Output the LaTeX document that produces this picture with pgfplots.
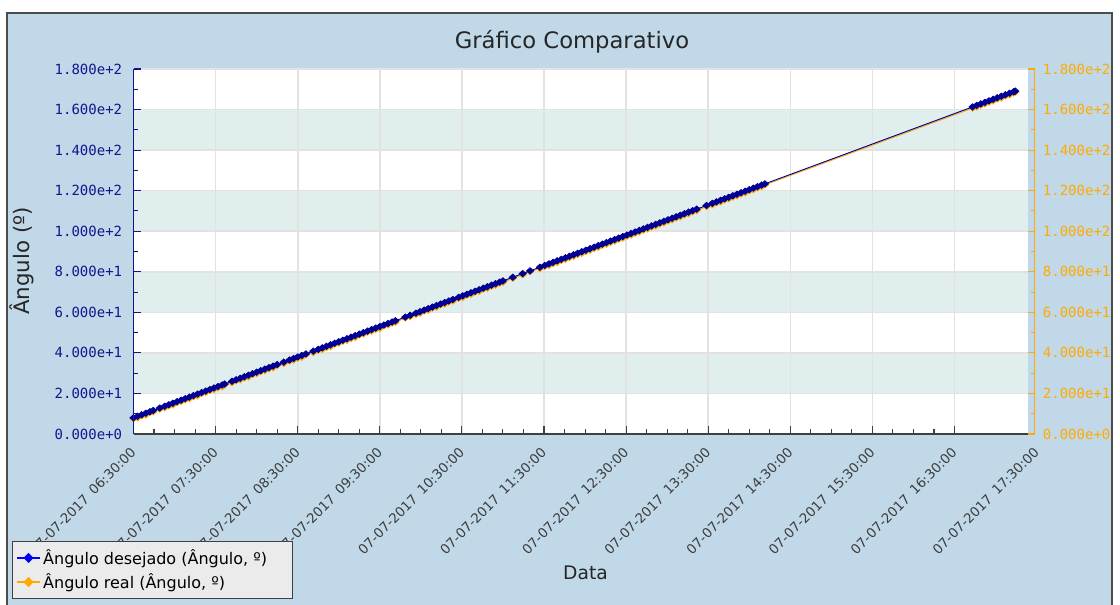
\documentclass[border=0pt]{standalone}
\usepackage{pgfplots}
\pgfplotsset{compat=1.18}
\usepackage{pgfplotstable}
\usepackage{fontspec}
\setmainfont{DejaVu Sans}
\newfontfamily\monofont{DejaVu Sans Mono}

\definecolor{panel}{RGB}{193,216,232}
\definecolor{band}{RGB}{224,238,238}
\definecolor{gridc}{RGB}{226,226,226}
\definecolor{navy}{RGB}{20,20,140}
\definecolor{serblue}{RGB}{0,0,150}
\definecolor{orng}{RGB}{255,170,0}
\definecolor{lblgray}{RGB}{60,60,60}
\definecolor{legfill}{RGB}{235,235,235}

\newcommand\dt[1]{07-07-2017\hspace{0.45em}#1}

% t (hours), desejado, real
\pgfplotstableread{
t d r
6.50 8.00 7.50
6.55 8.75 7.95
6.60 9.50 8.90
6.65 10.25 9.35
6.70 11.00 10.60
6.74 11.60 10.90
6.82 12.80 12.30
6.88 13.70 12.90
6.93 14.45 13.85
6.98 15.20 14.30
7.03 15.95 15.55
7.08 16.70 16.00
7.13 17.45 16.95
7.18 18.20 17.40
7.23 18.95 18.35
7.28 19.70 18.80
7.33 20.45 20.05
7.38 21.20 20.50
7.43 21.95 21.45
7.48 22.70 21.90
7.53 23.45 22.85
7.58 24.20 23.30
7.61 24.65 24.25
7.70 26.00 25.30
7.75 26.75 26.25
7.80 27.50 26.70
7.85 28.25 27.65
7.90 29.00 28.10
7.95 29.75 29.35
8.00 30.50 29.80
8.05 31.25 30.75
8.10 32.00 31.20
8.15 32.75 32.15
8.20 33.50 32.60
8.25 34.25 33.85
8.33 35.45 34.75
8.40 36.50 36.00
8.45 37.25 36.45
8.50 38.00 37.40
8.55 38.75 37.85
8.60 39.50 39.10
8.69 40.85 40.15
8.75 41.75 41.25
8.80 42.50 41.70
8.85 43.25 42.65
8.90 44.00 43.10
8.95 44.75 44.35
9.00 45.50 44.80
9.05 46.25 45.75
9.10 47.00 46.20
9.15 47.75 47.15
9.20 48.50 47.60
9.25 49.25 48.85
9.30 50.00 49.30
9.35 50.75 50.25
9.40 51.50 50.70
9.45 52.25 51.65
9.50 53.00 52.10
9.55 53.75 53.35
9.60 54.50 53.80
9.65 55.25 54.75
9.69 55.85 55.05
9.81 57.65 57.25
9.87 58.55 57.85
9.94 59.60 59.00
9.99 60.35 59.55
10.04 61.10 60.70
10.09 61.85 61.05
10.14 62.60 62.10
10.19 63.35 62.55
10.24 64.10 63.70
10.29 64.85 64.05
10.34 65.60 65.10
10.39 66.35 65.55
10.46 67.40 66.90
10.51 68.15 67.35
10.56 68.90 68.50
10.61 69.65 68.85
10.66 70.40 69.90
10.71 71.15 70.35
10.76 71.90 71.50
10.81 72.65 71.85
10.86 73.40 72.90
10.91 74.15 73.35
10.96 74.90 74.50
11.00 75.50 74.80
11.12 77.30 76.80
11.24 79.10 78.50
11.33 80.45 80.05
11.45 82.25 81.55
11.51 83.15 82.65
11.56 83.90 83.10
11.61 84.65 84.05
11.66 85.40 84.60
11.71 86.15 85.55
11.76 86.90 86.10
11.81 87.65 87.05
11.86 88.40 87.60
11.91 89.15 88.55
11.96 89.90 89.10
12.01 90.65 90.05
12.06 91.40 90.60
12.11 92.15 91.55
12.16 92.90 92.10
12.21 93.65 93.05
12.26 94.40 93.60
12.31 95.15 94.55
12.36 95.90 95.10
12.41 96.65 96.05
12.46 97.40 96.60
12.51 98.15 97.55
12.56 98.90 98.10
12.61 99.65 99.05
12.66 100.40 99.60
12.71 101.15 100.55
12.76 101.90 101.10
12.81 102.65 102.05
12.86 103.40 102.60
12.91 104.15 103.55
12.96 104.90 104.10
13.01 105.65 105.05
13.06 106.40 105.60
13.11 107.15 106.55
13.16 107.90 107.10
13.21 108.65 108.05
13.26 109.40 108.60
13.31 110.15 109.55
13.36 110.90 110.10
13.48 112.70 112.20
13.55 113.75 113.05
13.60 114.50 114.00
13.65 115.25 114.45
13.70 116.00 115.40
13.75 116.75 115.95
13.80 117.50 116.90
13.85 118.25 117.45
13.90 119.00 118.40
13.95 119.75 118.95
14.00 120.50 119.90
14.05 121.25 120.45
14.10 122.00 121.40
14.15 122.75 121.95
14.19 123.35 122.85
16.72 161.30 160.70
16.77 162.05 161.25
16.82 162.80 162.20
16.87 163.55 162.75
16.92 164.30 163.70
16.97 165.05 164.25
17.02 165.80 165.20
17.07 166.55 165.75
17.12 167.30 166.70
17.17 168.05 167.25
17.22 168.80 168.20
17.24 169.10 168.60
}\angdata

\tikzset{xtl/.style={rotate=45, anchor=east, inner sep=0pt,
  font=\fontsize{10}{12}\selectfont, text=lblgray}}
\pgfplotsset{gl/.style={forget plot, draw=gridc, line width=1.2pt}}

\begin{document}
\begin{tikzpicture}
\fill[white] (0pt,0pt) rectangle (840pt,453pt);
\filldraw[fill=panel, draw=black!70, line width=1.2pt] (5.25pt,443.25pt) rectangle (834pt,-3.75pt);

\node[font=\fontsize{17}{20}\selectfont, text=black!85] at (429pt,421.5pt) {Gráfico Comparativo};
\node[font=\fontsize{14}{17}\selectfont, text=black!85] at (439.125pt,23.25pt) {Data};
\node[font=\fontsize{16}{19}\selectfont, text=black!85, rotate=90] at (16.5pt,257.25pt) {Ângulo (º)};

\begin{axis}[
  at={(100.125pt,127.5pt)}, anchor=south west,
  scale only axis, width=670.875pt, height=273.75pt,
  axis on top, clip mode=individual,
  axis background/.style={fill=white},
  xmin=6.5, xmax=17.395, ymin=0, ymax=180,
  axis x line*=bottom, axis y line*=left,
  x axis line style={draw=black!75, line width=1.1pt, -},
  y axis line style={draw=navy, line width=1.1pt, -},
  tick align=inside,
  major tick length=6pt, minor tick length=3.75pt,
  xtick={6.5,7.5,8.5,9.5,10.5,11.5,12.5,13.5,14.5,15.5,16.5},
  minor x tick num=3,
  xticklabels={\dt{06:30:00},\dt{07:30:00},\dt{08:30:00},\dt{09:30:00},\dt{10:30:00},\dt{11:30:00},\dt{12:30:00},\dt{13:30:00},\dt{14:30:00},\dt{15:30:00},\dt{16:30:00}},
  ytick={0,20,40,60,80,100,120,140,160,180}, minor y tick num=1,
  yticklabels={0.000e+0,2.000e+1,4.000e+1,6.000e+1,8.000e+1,1.000e+2,1.200e+2,1.400e+2,1.600e+2,1.800e+2},
  xtick style={draw=black!75, line width=0.8pt},
  ytick style={draw=navy, line width=0.8pt},
  xticklabel style={xtl}, xticklabel shift=12pt,
  yticklabel style={font=\monofont\fontsize{10.5}{12}\selectfont, text=navy, xshift=-5pt},
  legend style={at={(-0.1358,-0.293)}, anchor=north west, fill=legfill, draw=black!75,
    line width=0.8pt, font=\fontsize{12}{14}\selectfont, inner xsep=3pt, inner ysep=4pt, row sep=1.5pt},
  legend cell align=left,
]
% horizontal bands
\addplot[forget plot, fill=band, draw=none] coordinates {(6.5,20) (17.395,20) (17.395,40) (6.5,40)} -- cycle;
\addplot[forget plot, fill=band, draw=none] coordinates {(6.5,60) (17.395,60) (17.395,80) (6.5,80)} -- cycle;
\addplot[forget plot, fill=band, draw=none] coordinates {(6.5,100) (17.395,100) (17.395,120) (6.5,120)} -- cycle;
\addplot[forget plot, fill=band, draw=none] coordinates {(6.5,140) (17.395,140) (17.395,160) (6.5,160)} -- cycle;
% grid lines
\addplot[gl] coordinates {(7.5,0) (7.5,180)};
\addplot[gl] coordinates {(8.5,0) (8.5,180)};
\addplot[gl] coordinates {(9.5,0) (9.5,180)};
\addplot[gl] coordinates {(10.5,0) (10.5,180)};
\addplot[gl] coordinates {(11.5,0) (11.5,180)};
\addplot[gl] coordinates {(12.5,0) (12.5,180)};
\addplot[gl] coordinates {(13.5,0) (13.5,180)};
\addplot[gl] coordinates {(14.5,0) (14.5,180)};
\addplot[gl] coordinates {(15.5,0) (15.5,180)};
\addplot[gl] coordinates {(16.5,0) (16.5,180)};
\addplot[gl] coordinates {(6.5,20) (17.395,20)};
\addplot[gl] coordinates {(6.5,40) (17.395,40)};
\addplot[gl] coordinates {(6.5,60) (17.395,60)};
\addplot[gl] coordinates {(6.5,80) (17.395,80)};
\addplot[gl] coordinates {(6.5,100) (17.395,100)};
\addplot[gl] coordinates {(6.5,120) (17.395,120)};
\addplot[gl] coordinates {(6.5,140) (17.395,140)};
\addplot[gl] coordinates {(6.5,160) (17.395,160)};
\addplot[gl] coordinates {(6.5,180) (17.395,180)};

\addplot[forget plot, color=orng, line width=0.7pt, mark=diamond*, mark size=2.3pt, mark options={xscale=1.5}] table[x=t,y=r]{\angdata};
\addplot[forget plot, color=serblue, line width=0.7pt, mark=diamond*, mark size=2.3pt, mark options={xscale=1.5}] table[x=t,y=d]{\angdata};

\addlegendimage{color=blue, line width=0.9pt, mark=diamond*, mark size=3.2pt, mark options={xscale=1.3}}
\addlegendentry{Ângulo desejado (Ângulo, º)\hspace*{14pt}}
\addlegendimage{color=orng, line width=0.9pt, mark=diamond*, mark size=3.2pt, mark options={xscale=1.3}}
\addlegendentry{Ângulo real (Ângulo, º)}

\node[xtl] at ([yshift=-12pt]axis cs:17.5,0) {\dt{17:30:00}};
\end{axis}

\begin{axis}[
  at={(105pt,127.5pt)}, anchor=south west,
  scale only axis, width=670.875pt, height=273.75pt,
  xmin=6.5, xmax=17.395, ymin=0, ymax=180,
  axis x line=none, xtick=\empty, axis y line*=right,
  y axis line style={draw=orng, line width=1.1pt, -},
  tick align=inside, major tick length=5.25pt, minor tick length=3pt,
  ytick={0,20,40,60,80,100,120,140,160,180}, minor y tick num=1,
  yticklabels={0.000e+0,2.000e+1,4.000e+1,6.000e+1,8.000e+1,1.000e+2,1.200e+2,1.400e+2,1.600e+2,1.800e+2},
  ytick style={draw=orng, line width=0.8pt},
  yticklabel style={font=\monofont\fontsize{10.5}{12}\selectfont, text=orng, xshift=2.8pt},
]
\addplot[draw=none, forget plot] table[x=t,y=d]{\angdata};
\end{axis}
\draw[orng, line width=1.1pt] (771pt,127.5pt) -- (775.875pt,127.5pt);
\pgfresetboundingbox
\path[use as bounding box] (0pt,0pt) rectangle (840pt,453pt);
\end{tikzpicture}
\end{document}
